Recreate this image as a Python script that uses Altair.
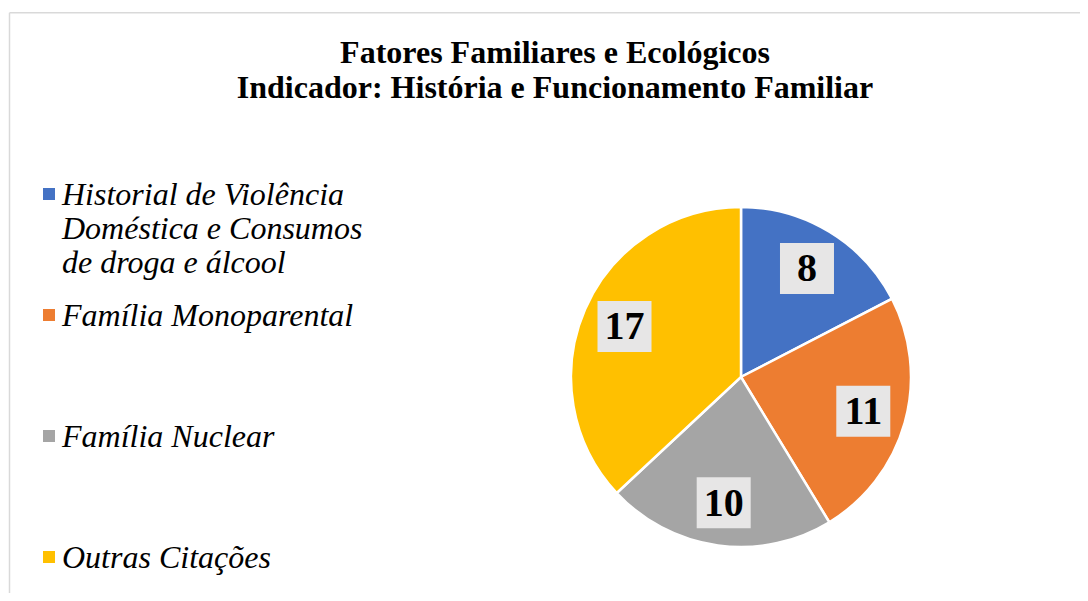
import altair as alt
import pandas as pd

# ---- data ----
categories = [
    "Historial de Violência|Doméstica e Consumos|de droga e álcool",
    "Família Monoparental",
    "Família Nuclear",
    "Outras Citações",
]
values = [8, 11, 10, 17]
colors = ["#4472C4", "#ED7D31", "#A5A5A5", "#FFC000"]
title_lines = ["Fatores Familiares e Ecológicos", "Indicador: História e Funcionamento Familiar"]

df = pd.DataFrame({"categoria": categories, "valor": values, "ordem": list(range(len(values)))})

# ---- layout ----
W, H, TOP = 1072, 581, 4
CX, CY = 733, 365
R_PIE, R_LAB = 170, 127
SERIF = "Liberation Serif"

base = alt.Chart(df)

pie = base.mark_arc(outerRadius=R_PIE, stroke="white", strokeWidth=2.5).encode(
    theta=alt.Theta("valor:Q", stack=True),
    order=alt.Order("ordem:Q", sort="ascending"),
    color=alt.Color(
        "categoria:N",
        sort=categories,
        scale=alt.Scale(domain=categories, range=colors),
        legend=alt.Legend(
            title=None,
            orient="none",
            legendX=22,
            legendY=152,
            direction="vertical",
            symbolType="M-0.5,1.33H1.5V3.33H-0.5Z",
            symbolSize=144,
            symbolStrokeWidth=0,
            symbolOpacity=1,
            labelFont=SERIF,
            labelFontStyle="italic",
            labelFontSize=32,
            labelColor="black",
            labelBaseline="top",
            labelOffset=0,
            labelLimit=600,
            labelExpr="split(datum.label, '|')",
            rowPadding=6,
            gridAlign="all",
            padding=0,
        ),
    ),
    x=alt.value(CX),
    y=alt.value(CY),
)

lab = (
    base.transform_window(cum="sum(valor)", sort=[alt.SortField("ordem")], frame=[None, 0])
    .transform_joinaggregate(total="sum(valor)")
    .transform_calculate(ang="(datum.cum - datum.valor/2) / datum.total * 2 * PI")
    .transform_calculate(
        lx=f"{CX} + {R_LAB} * sin(datum.ang)",
        ly=f"{CY} - {R_LAB} * cos(datum.ang)",
    )
)

boxes = lab.mark_rect(width=54, height=51, color="#E7E6E6").encode(
    x=alt.X("lx:Q", scale=None, axis=None),
    y=alt.Y("ly:Q", scale=None, axis=None),
)

texts = lab.mark_text(
    font=SERIF, fontSize=40, fontWeight="bold", color="black", baseline="middle", align="center", dy=1
).encode(
    x=alt.X("lx:Q", scale=None, axis=None),
    y=alt.Y("ly:Q", scale=None, axis=None),
    text=alt.Text("valor:Q"),
)

one = pd.DataFrame({"a": [0]})
border_left = alt.Chart(one).mark_rule(color="#D9D9D9", strokeWidth=1.5).encode(
    x=alt.value(1.5), y=alt.value(0.75), y2=alt.value(H)
)
border_top = alt.Chart(one).mark_rule(color="#D9D9D9", strokeWidth=1.5).encode(
    x=alt.value(1.5), x2=alt.value(W), y=alt.value(0.75)
)

chart = (
    alt.layer(border_left, border_top, pie, boxes, texts)
    .properties(
        width=W,
        height=H,
        padding={"left": 0, "top": TOP, "right": 0, "bottom": 0},
        autosize=alt.AutoSizeParams(type="none"),
        title=alt.TitleParams(
            title_lines,
            font=SERIF,
            fontSize=32,
            fontWeight="bold",
            color="black",
            anchor="middle",
            dx=11,
            lineHeight=35,
            offset=-93,
        ),
    )
    .configure_view(stroke=None)
)

chart.save("out.html", embed_options={"renderer": "svg", "actions": False})
